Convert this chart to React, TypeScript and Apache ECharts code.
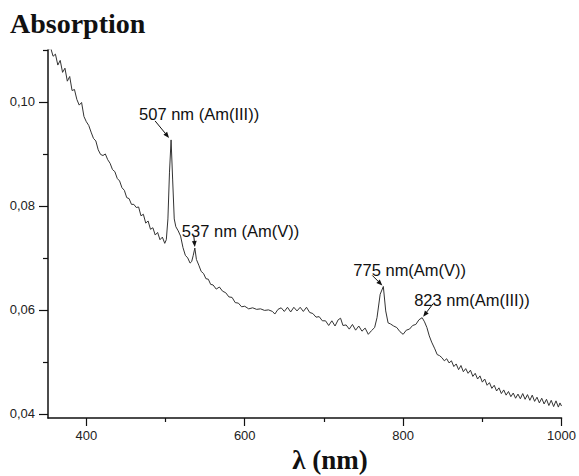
import React, { useEffect, useRef } from "react";
import * as echarts from "echarts";

const wavelengths = [
  352, 355, 358, 361, 364, 367, 370, 373, 376, 379, 382, 385, 388, 391, 394, 397,
  400, 403, 406, 409, 412, 415, 418, 421, 424, 427, 430, 433, 436, 439, 442, 445,
  448, 451, 454, 457, 460, 463, 466, 469, 472, 475, 478, 481, 484, 487, 490, 493,
  496, 499, 501, 503, 505, 507, 509, 511, 513, 516, 519, 522, 525, 528, 531, 533,
  535, 537, 539, 542, 545, 548, 551, 554, 557, 560, 564, 568, 572, 576, 580, 584,
  588, 592, 596, 600, 605, 610, 615, 620, 625, 630, 635, 638, 642, 646, 650, 654,
  658, 662, 666, 670, 674, 678, 682, 686, 690, 694, 698, 702, 706, 710, 714, 718,
  721, 724, 728, 732, 736, 740, 744, 748, 752, 756, 760, 764, 767, 771, 775, 778,
  781, 784, 788, 792, 796, 800, 804, 808, 812, 816, 820, 824, 827, 830, 833, 836,
  840, 843, 846, 849, 852, 855, 858, 861, 864, 867, 870, 873, 876, 879, 882, 885,
  888, 891, 894, 897, 900, 903, 906, 909, 912, 915, 918, 921, 924, 927, 930, 933,
  936, 939, 942, 945, 948, 951, 954, 957, 960, 963, 966, 969, 972, 975, 978, 981,
  984, 987, 990, 993, 996, 998, 1000,
];

const absorbance = [
  0.11, 0.1104, 0.1088, 0.1092, 0.1071, 0.108, 0.1057, 0.1065, 0.104, 0.1049, 0.1022, 0.1024, 0.1005, 0.0994, 0.0999, 0.0972,
  0.0962, 0.0955, 0.0942, 0.093, 0.0925, 0.0908, 0.0899, 0.0897, 0.09, 0.0889, 0.0882, 0.087, 0.0866, 0.0853, 0.0848, 0.0835,
  0.083, 0.0816, 0.0814, 0.0803, 0.0803, 0.0797, 0.0798, 0.0781, 0.0784, 0.0767, 0.0771, 0.0755, 0.0758, 0.0744, 0.0749, 0.0735,
  0.074, 0.0728, 0.0735, 0.0775, 0.0865, 0.0927, 0.085, 0.0775, 0.076, 0.0752, 0.0742, 0.072, 0.0705, 0.07, 0.069, 0.0693,
  0.0705, 0.0719, 0.0697, 0.0686, 0.0674, 0.067, 0.066, 0.0659, 0.0649, 0.0648, 0.064, 0.0644, 0.0636, 0.0633, 0.0625, 0.0624,
  0.0614, 0.0613, 0.0606, 0.0607, 0.0602, 0.0604, 0.0601, 0.0602, 0.0599, 0.06, 0.0597, 0.0592, 0.0601, 0.0604, 0.0597, 0.0605,
  0.0596, 0.0605, 0.0598, 0.0605, 0.0597, 0.0605, 0.0595, 0.0593, 0.0586, 0.0587, 0.0579, 0.0579, 0.057, 0.0579, 0.0569, 0.0581,
  0.0584, 0.057, 0.0571, 0.0563, 0.0572, 0.0561, 0.0569, 0.0559, 0.0565, 0.0553, 0.056, 0.0566, 0.0585, 0.063, 0.0645, 0.0598,
  0.0575, 0.0573, 0.0569, 0.0566, 0.0558, 0.0553, 0.0561, 0.0563, 0.057, 0.0572, 0.0581, 0.0585, 0.0577, 0.0566, 0.055, 0.0538,
  0.0525, 0.0514, 0.0512, 0.0508, 0.0502, 0.0506, 0.0498, 0.0502, 0.0491, 0.0496, 0.0485, 0.0493, 0.0481, 0.0487, 0.0478, 0.0484,
  0.0472, 0.0478, 0.0467, 0.0473, 0.0461, 0.0467, 0.0455, 0.046, 0.0449, 0.0455, 0.0444, 0.045, 0.0439, 0.0446, 0.0436, 0.0443,
  0.0433, 0.044, 0.043, 0.0438, 0.0429, 0.0439, 0.0428, 0.0437, 0.0426, 0.0436, 0.0424, 0.0432, 0.0421, 0.043, 0.0419, 0.0428,
  0.0416, 0.0426, 0.0414, 0.0425, 0.0413, 0.0421, 0.0415,
];

const xMajorTicks = [400, 600, 800, 1000];
const xMinorTicks = [500, 700, 900];
const yMajorTicks = [0.04, 0.06, 0.08, 0.1];
const yMinorTicks = [0.05, 0.07, 0.09, 0.11];

const X_MIN = 351.6;
const X_MAX = 1000;
const Y_MIN = 0.0392;
const Y_MAX = 0.11;

const peakLabels = ["507 nm (Am(III))", "537 nm (Am(V))", "775 nm(Am(V))", "823 nm(Am(III))"];
const peakWavelengths = [507, 537, 775, 824];

// layout for each annotation (pixel offsets relative to the peak)
const annLayout = [
  { tx: -32, ty: -26, tail: [-14, -17], tip: [-2, -2], head: 6 },
  { tx: -13, ty: -17, tail: [-1, -11], tip: [0, -1], head: 6 },
  { tx: -30, ty: -16, tail: [-10, -10], tip: [-1, -1], head: 6 },
  { tx: -8, ty: -18, tail: [10, -13], tip: [1, -1], head: 6 },
];

const sans = '"Liberation Sans", Arial, sans-serif';
const serif = '"Liberation Serif", "Times New Roman", serif';

export default function App() {
  const ref = useRef<HTMLDivElement>(null);

  useEffect(() => {
    if (!ref.current) return;
    const chart = echarts.init(ref.current, null, { renderer: "svg" });
    const data = wavelengths.map((w, i) => [w, absorbance[i]]);
    const axisColor = "#111";

    const option: any = {
      animation: false,
      backgroundColor: "#fff",
      grid: { left: 48, right: 16, top: 50, bottom: 58 },
      xAxis: [
        {
          type: "value",
          min: X_MIN,
          max: X_MAX,
          position: "bottom",
          axisLine: { show: true, onZero: false, lineStyle: { color: axisColor, width: 1.5 } },
          axisTick: { show: true, length: 8, customValues: xMajorTicks, lineStyle: { color: axisColor, width: 1.2 } },
          axisLabel: {
            customValues: xMajorTicks,
            fontSize: 13,
            color: "#222",
            fontFamily: sans,
            margin: 11,
            formatter: (v: number) => String(Math.round(v)),
          },
          splitLine: { show: false },
        },
        {
          type: "value",
          min: X_MIN,
          max: X_MAX,
          position: "bottom",
          axisLine: { show: false, onZero: false },
          axisTick: { show: true, length: 4, customValues: xMinorTicks, lineStyle: { color: axisColor, width: 1.2 } },
          axisLabel: { show: false },
          splitLine: { show: false },
        },
      ],
      yAxis: [
        {
          type: "value",
          min: Y_MIN,
          max: Y_MAX,
          position: "left",
          axisLine: { show: true, onZero: false, lineStyle: { color: axisColor, width: 1.5 } },
          axisTick: { show: true, length: 9, customValues: yMajorTicks, lineStyle: { color: axisColor, width: 1.2 } },
          axisLabel: {
            customValues: yMajorTicks,
            fontSize: 13,
            color: "#222",
            fontFamily: sans,
            margin: 13,
            formatter: (v: number) => v.toFixed(2).replace(".", ","),
          },
          splitLine: { show: false },
        },
        {
          type: "value",
          min: Y_MIN,
          max: Y_MAX,
          position: "left",
          axisLine: { show: false, onZero: false },
          axisTick: { show: true, length: 5, customValues: yMinorTicks, lineStyle: { color: axisColor, width: 1.2 } },
          axisLabel: { show: false },
          splitLine: { show: false },
        },
      ],
      series: [
        {
          type: "line",
          xAxisIndex: 0,
          yAxisIndex: 0,
          data,
          showSymbol: false,
          symbol: "none",
          clip: true,
          lineStyle: { color: "#333", width: 1 },
        },
      ],
    };
    chart.setOption(option);

    const elements: any[] = [
      {
        type: "text",
        left: 10,
        top: 9,
        style: { text: "Absorption", font: `bold 28px ${serif}`, fill: "#111" },
      },
      {
        type: "text",
        x: 330,
        y: 460,
        style: {
          text: "λ (nm)",
          font: `bold 27px ${serif}`,
          fill: "#111",
          align: "center",
          verticalAlign: "middle",
          textAlign: "center",
          textVerticalAlign: "middle",
        },
      },
    ];

    peakWavelengths.forEach((w, i) => {
      const idx = wavelengths.indexOf(w);
      const a = absorbance[idx];
      const p = chart.convertToPixel({ seriesIndex: 0 }, [w, a]) as number[];
      const L = annLayout[i];
      const tip = [p[0] + L.tip[0], p[1] + L.tip[1]];
      const tail = [tip[0] + L.tail[0], tip[1] + L.tail[1]];
      const dx = tip[0] - tail[0];
      const dy = tip[1] - tail[1];
      const len = Math.sqrt(dx * dx + dy * dy);
      const ux = dx / len;
      const uy = dy / len;
      const bx = tip[0] - ux * L.head;
      const by = tip[1] - uy * L.head;
      const hw = 2.4;
      elements.push({
        type: "line",
        shape: { x1: tail[0], y1: tail[1], x2: bx, y2: by },
        style: { stroke: "#111", lineWidth: 1 },
      });
      elements.push({
        type: "polygon",
        shape: {
          points: [
            [tip[0], tip[1]],
            [bx - uy * hw, by + ux * hw],
            [bx + uy * hw, by - ux * hw],
          ],
        },
        style: { fill: "#111" },
      });
      elements.push({
        type: "text",
        x: p[0] + L.tx,
        y: p[1] + L.ty,
        style: {
          text: peakLabels[i],
          font: `16.5px ${sans}`,
          fill: "#111",
          align: "left",
          verticalAlign: "middle",
          textAlign: "left",
          textVerticalAlign: "middle",
        },
      });
    });

    chart.setOption({ graphic: { elements } });

    return () => chart.dispose();
  }, []);

  return (
    <div
      ref={ref}
      style={{ position: "absolute", left: 0, top: 0, width: 579, height: 476 }}
    />
  );
}
